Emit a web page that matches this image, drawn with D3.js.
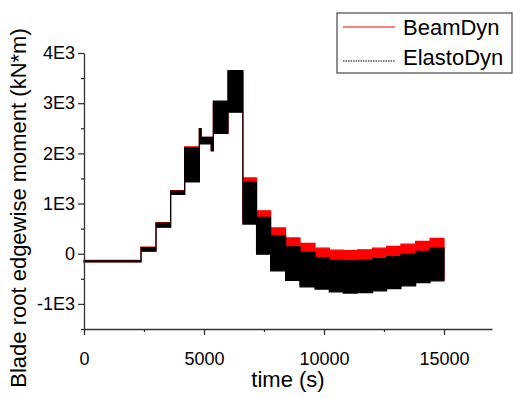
<!DOCTYPE html>
<html>
<head>
<meta charset="utf-8">
<script src="https://cdn.jsdelivr.net/npm/d3@7"></script>
<style>
  body { margin: 0; background: #fff; }
  svg { font-family: "Liberation Sans", Arial, sans-serif; }
  .axis path, .axis line { stroke: #333; stroke-width: 1.3; }
  .axis text { fill: #000; font-size: 18px; }
</style>
</head>
<body>
<div id="chart"></div>
<script>
// step start times (s); each level holds until the next start, last one ends at tEnd
const times = [0, 2375, 3000, 3610, 4195, 4805, 4880, 5300, 5390, 6000, 6620, 7190,
               7775, 8400, 9000, 9625, 10220, 10800, 11385, 12025, 12610, 13205, 13820, 14420];
const tEnd = 15000;

// envelope of the oscillating moment (kN*m)
const beamHi = [-130, 130, 620, 1260, 2130, 2480, 2320, 2320, 3000, 3620, 1510, 855,
                515, 315, 205, 110, 70, 60, 78, 110, 145, 190, 245, 305];
const beamLo = [-160, 60, 540, 1190, 1460, 2200, 2200, 2070, 2420, 2840, 640, 40,
                -290, -480, -610, -655, -710, -735, -725, -690, -645, -590, -525, -490];
const elastoHi = [-140, 120, 610, 1250, 2110, 2495, 2320, 2320, 3040, 3650, 1420, 725,
                  357, 138, 25, -75, -130, -140, -130, -95, -55, -10, 45, 110];
const elastoLo = [-165, 50, 530, 1180, 1430, 2190, 2190, 2050, 2400, 2820, 590, -10,
                  -340, -530, -660, -705, -760, -785, -775, -740, -695, -640, -575, -540];

const xTicks = [0, 5000, 10000, 15000];
const yTicks = [-1000, 0, 1000, 2000, 3000, 4000];
const yTickLabels = ["-1E3", "0", "1E3", "2E3", "3E3", "4E3"];

const width = 513, height = 398;

const svg = d3.select("#chart").append("svg")
    .attr("width", width)
    .attr("height", height);

const x = d3.scaleLinear().domain([0, 17000]).range([84, 492]);
const y = d3.scaleLinear().domain([-1500, 4000]).range([329, 53]);

function rows(hi, lo) {
    const r = times.map((t, i) => ({ t: t, hi: hi[i], lo: lo[i] }));
    r.push({ t: tEnd, hi: hi[hi.length - 1], lo: lo[lo.length - 1] });
    return r;
}

const area = d3.area()
    .curve(d3.curveStepAfter)
    .x(d => x(d.t))
    .y0(d => y(d.lo))
    .y1(d => y(d.hi));

const series = [
    { name: "BeamDyn", color: "#ff0000", data: rows(beamHi, beamLo) },
    { name: "ElastoDyn", color: "#000000", data: rows(elastoHi, elastoLo) }
];

svg.selectAll(".band")
    .data(series)
    .enter().append("path")
    .attr("class", "band")
    .attr("d", d => area(d.data))
    .attr("fill", d => d.color)
    .attr("stroke", d => d.color)
    .attr("stroke-width", 1.2);

// minor ticks
svg.append("g")
    .attr("class", "axis")
    .attr("transform", "translate(0," + y(-1500) + ")")
    .call(d3.axisBottom(x).tickValues(d3.range(2500, 17000, 5000)).tickSize(3).tickFormat(""))
    .select(".domain").remove();
svg.append("g")
    .attr("class", "axis")
    .attr("transform", "translate(" + x(0) + ",0)")
    .call(d3.axisLeft(y).tickValues(d3.range(-1500, 4000, 1000)).tickSize(3).tickFormat(""))
    .select(".domain").remove();

// major axes
svg.append("g")
    .attr("class", "axis")
    .attr("transform", "translate(0," + y(-1500) + ")")
    .call(d3.axisBottom(x).tickValues(xTicks).tickSizeInner(6).tickSizeOuter(0).tickPadding(17).tickFormat(d3.format("d")));

svg.append("g")
    .attr("class", "axis")
    .attr("transform", "translate(" + x(0) + ",0)")
    .call(d3.axisLeft(y).tickValues(yTicks).tickSizeInner(6).tickSizeOuter(0).tickPadding(3)
        .tickFormat((d, i) => yTickLabels[i]));

// axis titles
svg.append("text")
    .attr("x", (x.range()[0] + x.range()[1]) / 2)
    .attr("y", 387)
    .attr("text-anchor", "middle")
    .style("font-size", "22px")
    .text("time (s)");

svg.append("text")
    .attr("transform", "translate(26,208) rotate(-90)")
    .attr("text-anchor", "middle")
    .style("font-size", "22px")
    .text("Blade root edgewise moment (kN*m)");

// legend
const legend = svg.append("g");
legend.append("rect")
    .attr("x", 337).attr("y", 13)
    .attr("width", 175).attr("height", 60)
    .attr("fill", "#fff")
    .attr("stroke", "#555")
    .attr("stroke-width", 1.3);

const legY = [27, 61];
const textY = [35, 65];
series.forEach((s, i) => {
    legend.append("line")
        .attr("x1", 343).attr("x2", 395)
        .attr("y1", legY[i]).attr("y2", legY[i])
        .attr("stroke", s.color)
        .attr("stroke-width", 1)
        .attr("stroke-dasharray", i === 1 ? "1.5,1" : null);
    legend.append("text")
        .attr("x", 403)
        .attr("y", textY[i])
        .style("font-size", "22px")
        .text(s.name);
});
</script>
</body>
</html>
